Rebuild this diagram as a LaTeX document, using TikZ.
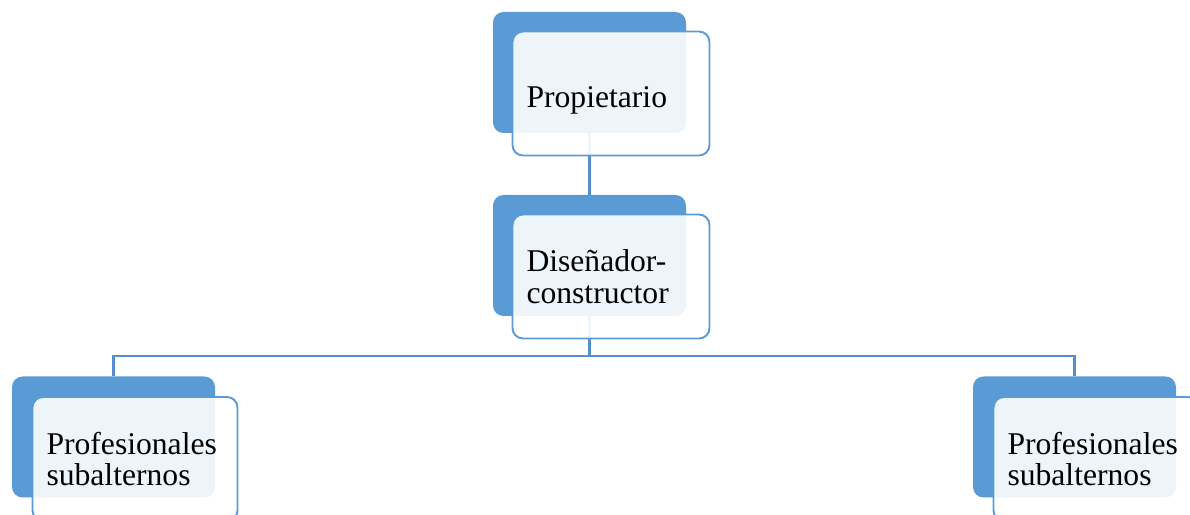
\documentclass[tikz,border=0pt]{standalone}
\usepackage{fontspec}
\setmainfont{Liberation Serif}
\usepackage{tikz}
\usetikzlibrary{positioning, calc}
\definecolor{orgblue}{HTML}{5B9BD5}
\definecolor{orgline}{HTML}{5590CC}

\begin{document}
\begin{tikzpicture}[
    back/.style={rectangle, rounded corners=6pt, draw=none, fill=orgblue,
                 minimum width=#1, minimum height=2.42cm},
    front/.style={rectangle, rounded corners=6pt, draw=orgblue, line width=1.1pt,
                  fill=white, fill opacity=0.9, text opacity=1,
                  text width=#1, inner xsep=0.28cm, minimum height=2.48cm,
                  align=left, font=\fontsize{18}{18}\selectfont},
    link/.style={draw=orgline, line width=1.2pt}
]
\useasboundingbox (0,0) rectangle (23.8,10.3);

\node[back=3.86cm] (propb) at (11.79,8.85) {};
\node[back=3.86cm] (disb)  at (11.79,5.19) {};
\node[back=4.06cm] (lsubb) at (2.27,1.56)  {};
\node[back=4.06cm] (rsubb) at (21.49,1.56) {};

\coordinate (bus) at ($(disb.south)+(0,-0.8)$);
\draw[link] (propb) -- (disb);
\draw[link] (disb.south) -- (bus) -| (lsubb.north);
\draw[link] (bus) -| (rsubb.north);

\node[front=3.38cm, text height=0.68cm, xshift=0.43cm, yshift=-0.42cm] (prop) at (propb) {Propietario};
\node[front=3.38cm, xshift=0.43cm, yshift=-0.42cm] (dis)  at (disb)  {Diseñador-\\constructor};
\node[front=3.54cm, xshift=0.43cm, yshift=-0.44cm] (lsub) at (lsubb) {Profesionales\\subalternos};
\node[front=3.54cm, xshift=0.43cm, yshift=-0.44cm] (rsub) at (rsubb) {Profesionales\\subalternos};
\end{tikzpicture}
\end{document}
